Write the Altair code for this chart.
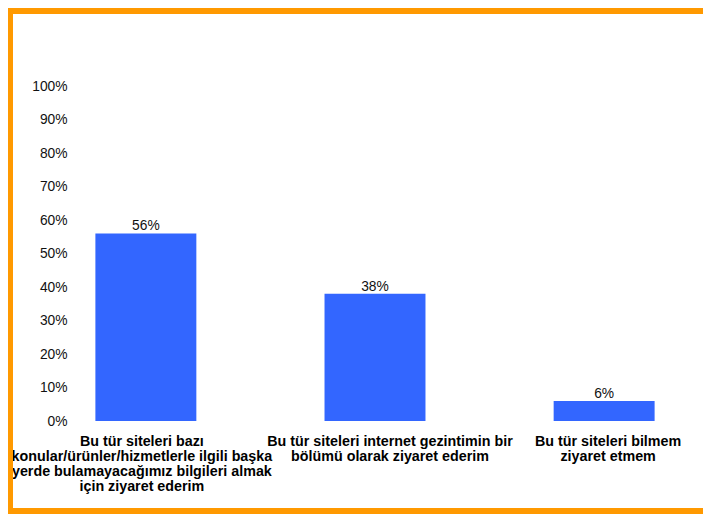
import json
import altair as alt
import pandas as pd

# ---- data ----
categories = [
    "Bu tür siteleri bazı\nkonular/ürünler/hizmetlerle ilgili başka\nyerde bulamayacağımız bilgileri almak\niçin ziyaret ederim",
    "Bu tür siteleri internet gezintimin bir\nbölümü olarak ziyaret ederim",
    "Bu tür siteleri bilmem\nziyaret etmem",
]
values = [0.56, 0.38, 0.06]
y_ticks = [0.0, 0.1, 0.2, 0.3, 0.4, 0.5, 0.6, 0.7, 0.8, 0.9, 1.0]

df = pd.DataFrame({"cat": categories, "val": values})
one = pd.DataFrame({"k": [0]})

# ---- layout ----
W_TOTAL, H_TOTAL = 695, 506
PAD_L, PAD_T = 62, 78
PLOT_W, PLOT_H = 610, 335
PAD_R = W_TOTAL - PAD_L - PLOT_W
PAD_B = H_TOTAL - PAD_T - PLOT_H

ORANGE = "#FF9900"
BLUE = "#3366FF"
FONT = "Liberation Sans"

label_offset = {
    "condition": [
        {"test": "datum.value == " + json.dumps(categories[0]), "value": -4},
        {"test": "datum.value == " + json.dumps(categories[1]), "value": 15},
    ],
    "value": 4,
}

x_enc = alt.X(
    "cat:N",
    sort=categories,
    scale=alt.Scale(paddingInner=0.5594, paddingOuter=0.1108),
    axis=alt.Axis(
        title=None,
        labelExpr="split(datum.label, '\\n')",
        labelAngle=0,
        labelFont=FONT,
        labelFontWeight="bold",
        labelFontSize=14.3,
        labelLineHeight=15.3,
        labelColor="#000000",
        labelLimit=400,
        labelPadding=13,
        labelBaseline="top",
        labelOffset=label_offset,
        labelOverlap=False,
        ticks=False,
        domain=False,
    ),
)
y_enc = alt.Y(
    "val:Q",
    scale=alt.Scale(domain=[0, 1], nice=False),
    axis=alt.Axis(
        values=y_ticks,
        tickCount=11,
        format=".0%",
        title=None,
        grid=False,
        domain=False,
        ticks=False,
        labelFont=FONT,
        labelFontSize=13.8,
        labelColor="#111111",
        labelPadding=3,
        labelBaseline="middle",
        labelOverlap=False,
        labelFlush=False,
    ),
)

base = alt.Chart(df)
bars = base.mark_bar(color=BLUE).encode(x=x_enc, y=y_enc)
texts = base.mark_text(
    font=FONT, fontSize=13.8, color="#111111", baseline="alphabetic", dy=-3
).encode(x=x_enc, y=y_enc, text=alt.Text("val:Q", format=".0%"))

top_rule = alt.Chart(one).mark_rule(color=ORANGE, strokeWidth=6).encode(
    x=alt.value(-PAD_L), x2=alt.value(W_TOTAL - PAD_L), y=alt.value(3 - PAD_T)
)
left_rule = alt.Chart(one).mark_rule(color=ORANGE, strokeWidth=5).encode(
    x=alt.value(2.5 - PAD_L), y=alt.value(-PAD_T), y2=alt.value(H_TOTAL - PAD_T)
)
bottom_rule = alt.Chart(one).mark_rule(color=ORANGE, strokeWidth=6).encode(
    x=alt.value(-PAD_L), x2=alt.value(W_TOTAL - PAD_L), y=alt.value(H_TOTAL - 3 - PAD_T)
)

chart = (
    alt.layer(bars, texts, top_rule, left_rule, bottom_rule)
    .properties(
        width=PLOT_W,
        height=PLOT_H,
        padding={"left": PAD_L, "top": PAD_T, "right": PAD_R, "bottom": PAD_B},
        autosize=alt.AutoSizeParams(type="none"),
        background="white",
    )
    .configure_view(stroke=None)
    .configure_axis(labelOverlap=False)
)

chart.save("out.html", embed_options={"renderer": "svg", "actions": False})
